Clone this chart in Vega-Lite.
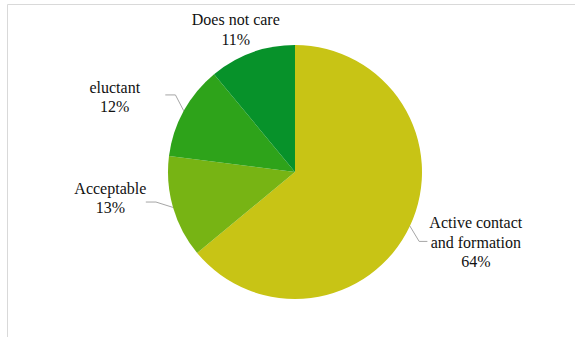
{
  "$schema": "https://vega.github.io/schema/vega-lite/v6.json",
  "width": 570,
  "height": 333,
  "autosize": "none",
  "padding": {"left": 7, "top": 4, "right": 0, "bottom": 0},
  "background": "white",
  "config": {"view": {"stroke": "#d9d9d9", "strokeWidth": 1}, "font": "Liberation Serif", "text": {"font": "Liberation Serif"}},
  "data": {"values": [
    {"rank": 1, "category": "Active contact and formation", "label": "Active contact\nand formation", "value": 64},
    {"rank": 2, "category": "Acceptable", "label": "Acceptable", "value": 13},
    {"rank": 3, "category": "eluctant", "label": "eluctant", "value": 12},
    {"rank": 4, "category": "Does not care", "label": "Does not care", "value": 11}
  ]},
  "transform": [
    {"window": [{"op": "sum", "field": "value", "as": "cum"}], "sort": [{"field": "rank"}]},
    {"joinaggregate": [{"op": "sum", "field": "value", "as": "total"}]},
    {"calculate": "(datum.cum - datum.value/2)/datum.total*2*PI", "as": "ang"},
    {"calculate": "datum.label + '\\n' + round(datum.value/datum.total*100) + '%'", "as": "txt"},
    {"calculate": "sin(datum.ang)", "as": "x0"},
    {"calculate": "cos(datum.ang)", "as": "y0"},
    {"calculate": "1.12*sin(datum.ang + 0.07)", "as": "x1"},
    {"calculate": "1.12*cos(datum.ang + 0.07)", "as": "y1"},
    {"calculate": "datum.x1 + (datum.x1 < 0 ? -0.08 : 0.065)", "as": "x2"},
    {"calculate": "1.26*sin(datum.ang)", "as": "lx"},
    {"calculate": "1.26*cos(datum.ang)", "as": "ly"}
  ],
  "layer": [
    {
      "mark": {"type": "arc", "outerRadius": 127},
      "encoding": {
        "theta": {"field": "value", "type": "quantitative", "stack": true},
        "order": {"field": "rank", "type": "quantitative"},
        "color": {"field": "category", "type": "nominal", "legend": null,
          "scale": {"domain": ["Active contact and formation", "Acceptable", "eluctant", "Does not care"],
                    "range": ["#C8C415", "#77B414", "#2EA31A", "#07922A"]}},
        "x": {"datum": 0, "type": "quantitative", "axis": null, "scale": {"domain": [-2.2677, 2.2205], "nice": false, "zero": false}},
        "y": {"datum": 0, "type": "quantitative", "axis": null, "scale": {"domain": [-1.2992, 1.3228], "nice": false, "zero": false}}
      }
    },
    {
      "transform": [{"filter": "datum.rank != 4"}],
      "mark": {"type": "rule", "color": "#a6a6a6", "strokeWidth": 1},
      "encoding": {
        "x": {"field": "x0", "type": "quantitative", "axis": null, "scale": {"domain": [-2.2677, 2.2205], "nice": false, "zero": false}},
        "y": {"field": "y0", "type": "quantitative", "axis": null, "scale": {"domain": [-1.2992, 1.3228], "nice": false, "zero": false}},
        "x2": {"field": "x1"},
        "y2": {"field": "y1"}
      }
    },
    {
      "transform": [{"filter": "datum.rank != 4"}],
      "mark": {"type": "rule", "color": "#a6a6a6", "strokeWidth": 1},
      "encoding": {
        "x": {"field": "x1", "type": "quantitative", "axis": null, "scale": {"domain": [-2.2677, 2.2205], "nice": false, "zero": false}},
        "y": {"field": "y1", "type": "quantitative", "axis": null, "scale": {"domain": [-1.2992, 1.3228], "nice": false, "zero": false}},
        "x2": {"field": "x2"},
        "y2": {"field": "y1"}
      }
    },
    {
      "transform": [{"filter": "datum.rank == 1"}],
      "mark": {"type": "text", "font": "Liberation Serif", "fontSize": 16, "lineHeight": 19.5, "lineBreak": "\n", "align": "center", "baseline": "middle", "color": "#111111", "dx": 36, "dy": -17},
      "encoding": {
        "x": {"field": "lx", "type": "quantitative", "axis": null, "scale": {"domain": [-2.2677, 2.2205], "nice": false, "zero": false}},
        "y": {"field": "ly", "type": "quantitative", "axis": null, "scale": {"domain": [-1.2992, 1.3228], "nice": false, "zero": false}},
        "text": {"field": "txt"}
      }
    },
    {
      "transform": [{"filter": "datum.rank == 2"}],
      "mark": {"type": "text", "font": "Liberation Serif", "fontSize": 16, "lineHeight": 19.5, "lineBreak": "\n", "align": "center", "baseline": "middle", "color": "#111111", "dx": -31, "dy": -28},
      "encoding": {
        "x": {"field": "lx", "type": "quantitative", "axis": null, "scale": {"domain": [-2.2677, 2.2205], "nice": false, "zero": false}},
        "y": {"field": "ly", "type": "quantitative", "axis": null, "scale": {"domain": [-1.2992, 1.3228], "nice": false, "zero": false}},
        "text": {"field": "txt"}
      }
    },
    {
      "transform": [{"filter": "datum.rank == 3"}],
      "mark": {"type": "text", "font": "Liberation Serif", "fontSize": 16, "lineHeight": 19.5, "lineBreak": "\n", "align": "center", "baseline": "middle", "color": "#111111", "dx": -40, "dy": -7},
      "encoding": {
        "x": {"field": "lx", "type": "quantitative", "axis": null, "scale": {"domain": [-2.2677, 2.2205], "nice": false, "zero": false}},
        "y": {"field": "ly", "type": "quantitative", "axis": null, "scale": {"domain": [-1.2992, 1.3228], "nice": false, "zero": false}},
        "text": {"field": "txt"}
      }
    },
    {
      "transform": [{"filter": "datum.rank == 4"}],
      "mark": {"type": "text", "font": "Liberation Serif", "fontSize": 16, "lineHeight": 19.5, "lineBreak": "\n", "align": "center", "baseline": "middle", "color": "#111111", "dx": -5, "dy": -1},
      "encoding": {
        "x": {"field": "lx", "type": "quantitative", "axis": null, "scale": {"domain": [-2.2677, 2.2205], "nice": false, "zero": false}},
        "y": {"field": "ly", "type": "quantitative", "axis": null, "scale": {"domain": [-1.2992, 1.3228], "nice": false, "zero": false}},
        "text": {"field": "txt"}
      }
    }
  ]
}
